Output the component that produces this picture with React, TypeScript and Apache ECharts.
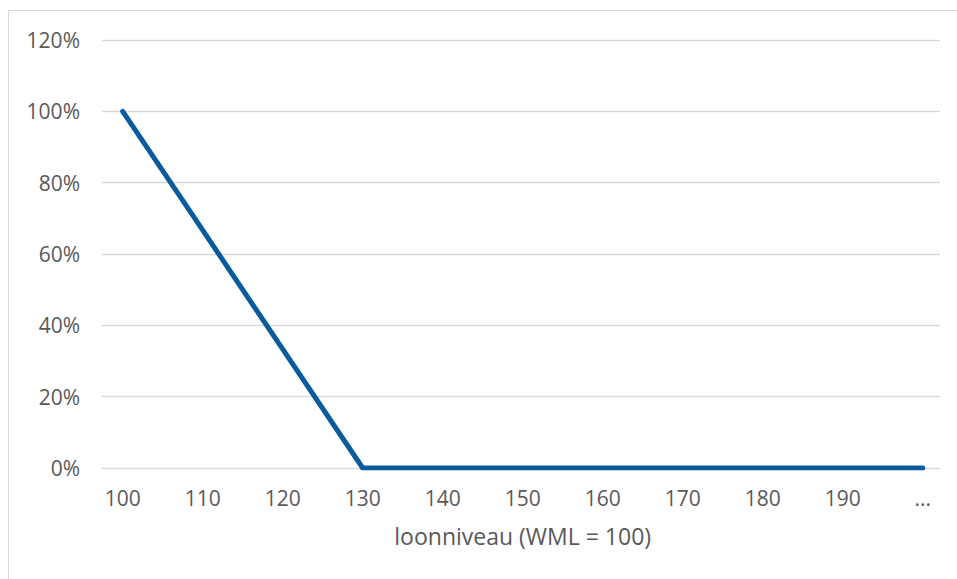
import React, { useEffect, useRef } from "react";
import * as echarts from "echarts";

const categories = ["100", "110", "120", "130", "140", "150", "160", "170", "180", "190", "..."];
const values = [1.0, 0.6667, 0.3333, 0, 0, 0, 0, 0, 0, 0, 0];
const xAxisTitle = "loonniveau (WML = 100)";

const FONT = "'Open Sans', 'Noto Sans', sans-serif";
const TEXT_COLOR = "#595959";
const GRID_COLOR = "#d9d9d9";

export default function App() {
  const ref = useRef<HTMLDivElement>(null);
  useEffect(() => {
    document.body.style.margin = "0";
    const chart = echarts.init(ref.current!, null, { renderer: "svg" });
    chart.setOption({
      animation: false,
      backgroundColor: "#ffffff",
      textStyle: { fontFamily: FONT },
      graphic: [
        {
          type: "rect",
          shape: { x: 8.5, y: 10.5, width: 1000, height: 700 },
          style: { fill: "none", stroke: GRID_COLOR, lineWidth: 1 },
          silent: true,
        },
      ],
      grid: [
        { left: 102, right: 17, top: 40, bottom: 111 },
        { left: 122.7, right: 34.3, top: 40, bottom: 111 },
      ],
      xAxis: [
        { type: "value", gridIndex: 0, show: false, min: 0, max: 1 },
        {
          type: "category",
          gridIndex: 1,
          data: categories,
          boundaryGap: false,
          axisLine: { show: false },
          axisTick: { show: false },
          axisLabel: {
            color: TEXT_COLOR,
            fontSize: 21,
            fontFamily: FONT,
            margin: 19,
            interval: 0,
          },
          splitLine: { show: false },
          name: xAxisTitle,
          nameLocation: "middle",
          nameGap: 56,
          nameTextStyle: { color: TEXT_COLOR, fontSize: 23, fontFamily: FONT },
        },
      ],
      yAxis: [
        {
          type: "value",
          gridIndex: 0,
          min: 0,
          max: 1.2,
          interval: 0.2,
          axisLine: { show: false },
          axisTick: { show: false },
          axisLabel: {
            color: TEXT_COLOR,
            fontSize: 21,
            fontFamily: FONT,
            margin: 22,
            formatter: (v: number) => Math.round(v * 100) + "%",
          },
          splitLine: { show: true, lineStyle: { color: GRID_COLOR, width: 1.3 } },
        },
        {
          type: "value",
          gridIndex: 1,
          min: 0,
          max: 1.2,
          interval: 0.2,
          show: false,
          splitLine: { show: false },
        },
      ],
      series: [
        {
          type: "line",
          xAxisIndex: 1,
          yAxisIndex: 1,
          data: values,
          symbol: "none",
          lineStyle: { color: "#0a5a9e", width: 5, cap: "round", join: "round" },
          z: 5,
        },
      ],
    });
    return () => chart.dispose();
  }, []);
  return <div ref={ref} style={{ width: 957, height: 579 }} />;
}
